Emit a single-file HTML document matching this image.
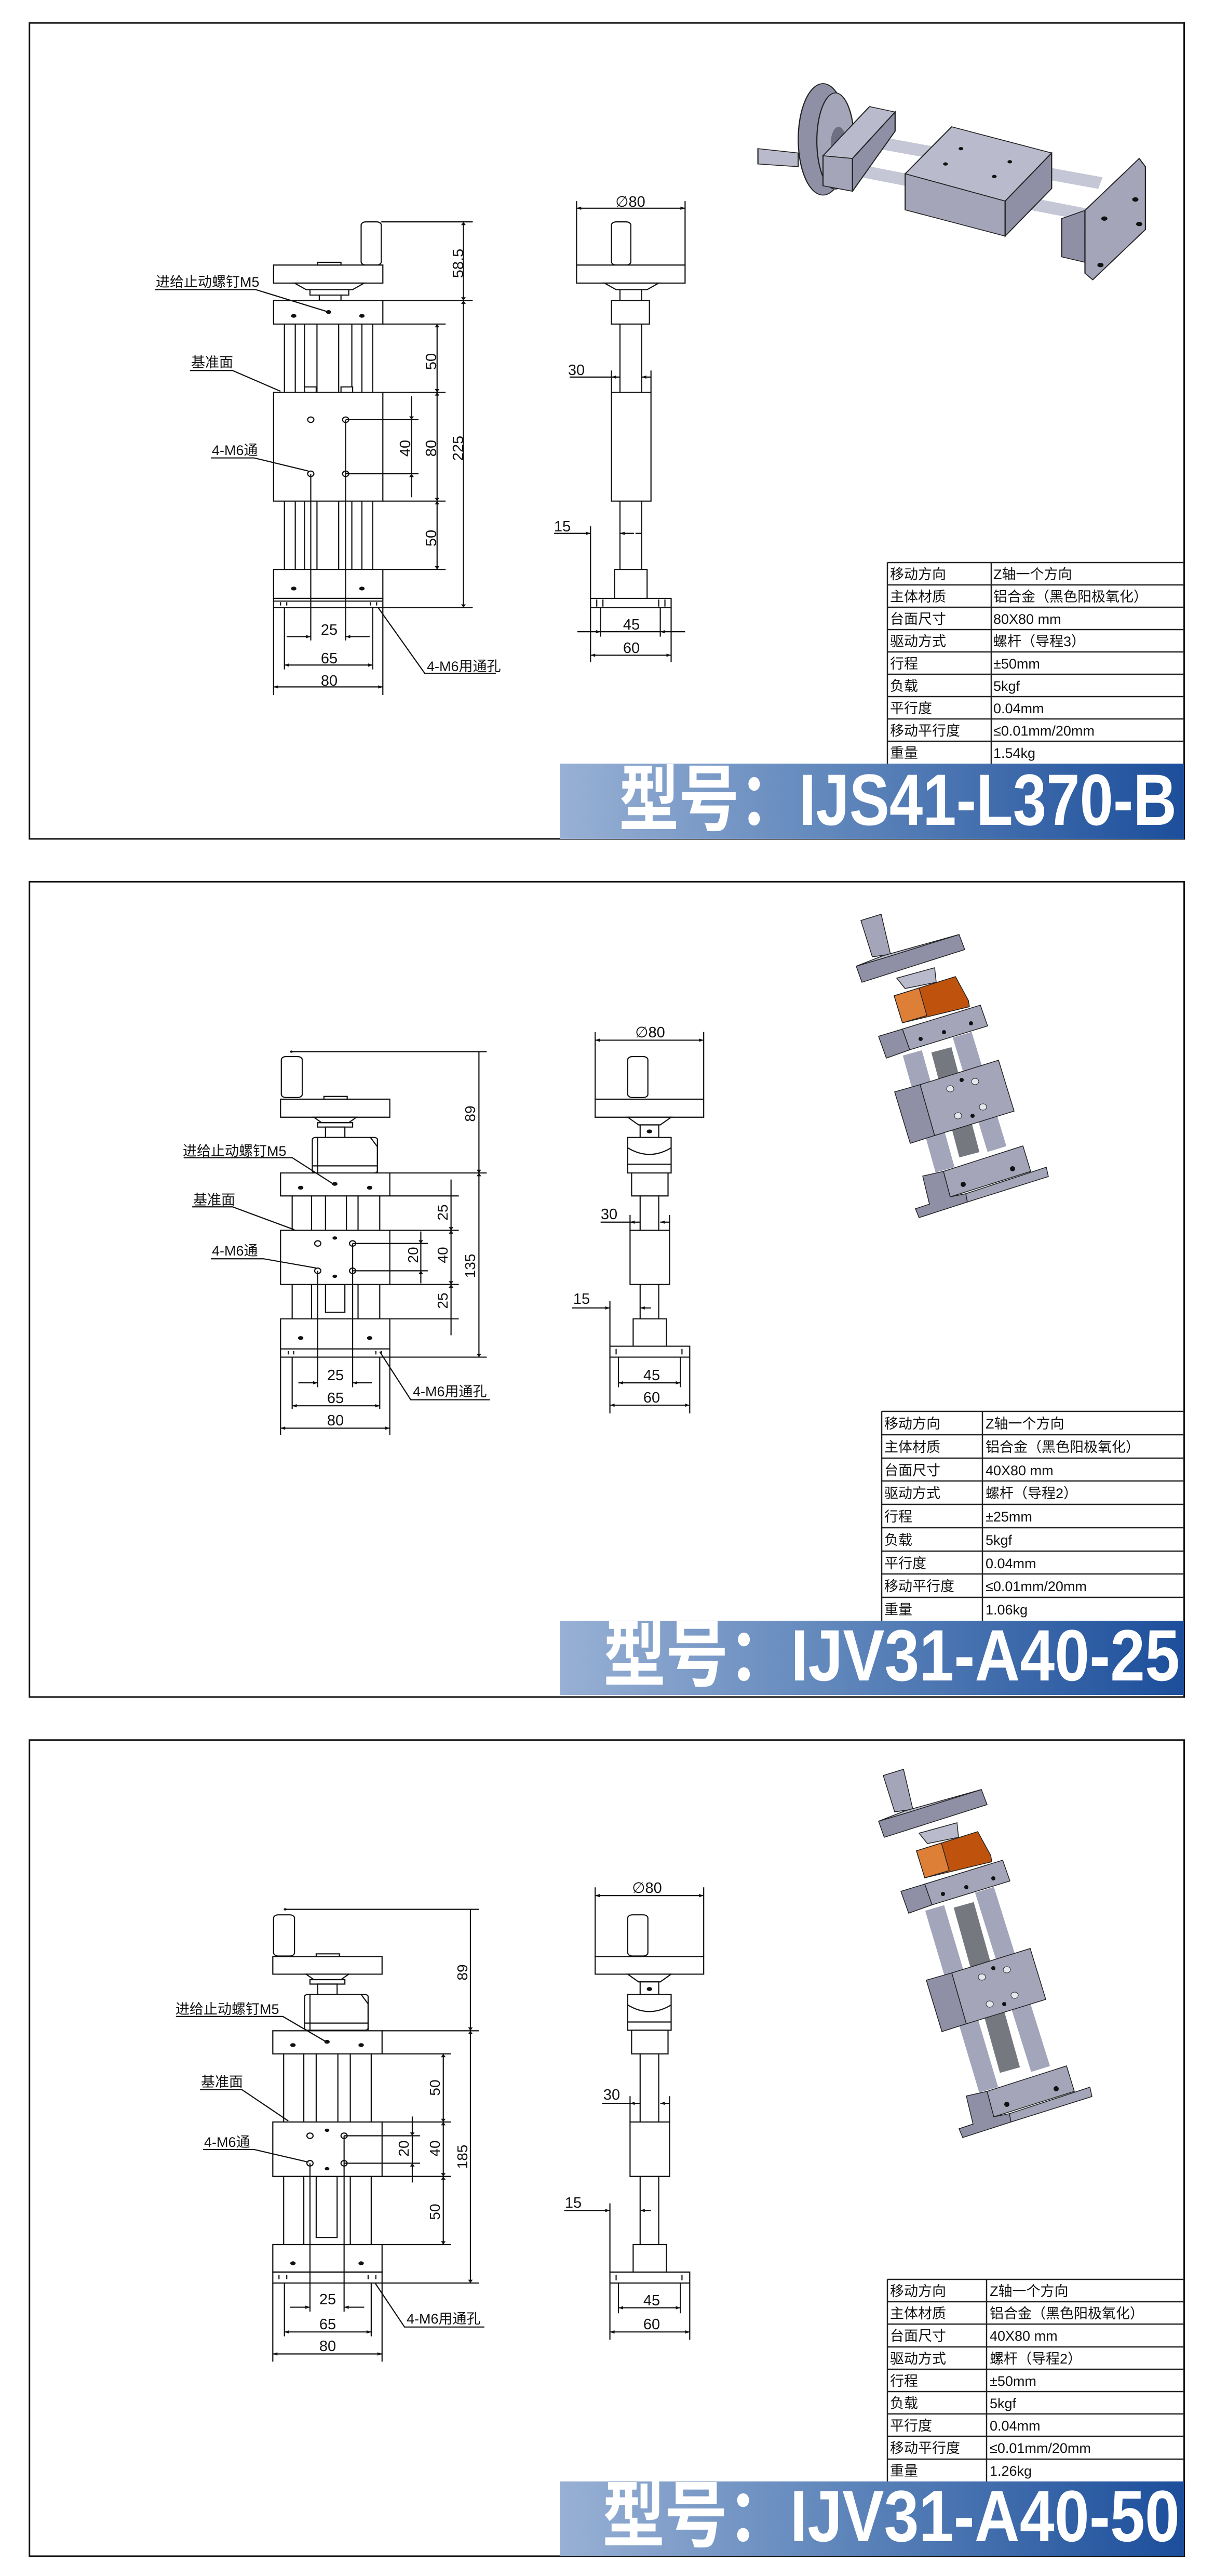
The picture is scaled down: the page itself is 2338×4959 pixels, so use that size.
<!DOCTYPE html>
<html><head><meta charset="utf-8">
<style>
html,body{margin:0;padding:0;background:#fff;}
body{width:2338px;height:4959px;position:relative;overflow:hidden;}
svg{position:absolute;left:0;}
.l{fill:none;stroke:#111;stroke-width:2.2;vector-effect:non-scaling-stroke}
.w{fill:#fff;stroke:#111;stroke-width:2.2;vector-effect:non-scaling-stroke}
.k{fill:#111;stroke:none}
.t{font-family:"Liberation Sans Narrow","Liberation Sans",sans-serif;font-size:29px;fill:#111}
.c{font-family:"Liberation Sans Narrow","Liberation Sans","Noto Sans CJK SC",sans-serif;font-size:27px;fill:#111}
.tb{font-family:"Liberation Sans Narrow","Liberation Sans","Noto Sans CJK SC",sans-serif;font-size:27px;fill:#111}
.bn{font-family:"Liberation Sans","Noto Sans CJK SC",sans-serif;font-weight:bold;font-size:140px;fill:#fff}
.g1{fill:#8f90a5;stroke:#222;stroke-width:1.5}
.g2{fill:#a4a5b9;stroke:#222;stroke-width:1.5}
.g3{fill:#b9bacb;stroke:#222;stroke-width:1.5}
</style></head><body>

<svg width="0" height="0" style="position:absolute">
<defs>
<marker id="a" viewBox="0 0 10 10" refX="10" refY="5" markerWidth="13" markerHeight="6" markerUnits="userSpaceOnUse" orient="auto-start-reverse"><path d="M0,0L10,5L0,10z" fill="#111"/></marker>
<linearGradient id="bg" x1="0" x2="1" y1="0" y2="0"><stop offset="0" stop-color="#98b0d4"/><stop offset="0.45" stop-color="#5f86bb"/><stop offset="1" stop-color="#1c4e9b"/></linearGradient>
</defs>
</svg>

<!-- ================= PANEL 1 ================= -->
<svg width="2338" height="1650" style="top:0" viewBox="0 0 2338 1650">
<g transform="scale(1.4925,1.052)">
<rect x="38" y="42" width="1490" height="1493" class="l" style="stroke-width:3"/>
<!-- 3D -->
<g>
<line x1="1110" y1="255" x2="1420" y2="335" stroke="#c5c7d6" stroke-width="22"/>
<line x1="1100" y1="310" x2="1410" y2="395" stroke="#c5c7d6" stroke-width="22"/>
<ellipse cx="1062" cy="255" rx="32" ry="102" class="g1"/>
<ellipse cx="1078" cy="258" rx="24" ry="88" class="g2"/>
<ellipse cx="1082" cy="262" rx="10" ry="30" fill="#6e6f82"/>
<polygon points="978,272 1030,280 1030,305 978,300" class="g3"/>
<polygon points="1062,285 1100,290 1100,350 1062,340" class="g2"/>
<polygon points="1062,285 1122,195 1155,205 1100,290" class="g3"/>
<polygon points="1100,290 1155,205 1155,240 1100,350" class="g1"/>
<polygon points="1168,318 1228,232 1357,280 1297,368" class="g3"/>
<polygon points="1168,318 1297,368 1297,432 1168,384" class="g2"/>
<polygon points="1297,368 1357,280 1357,345 1297,432" class="g1"/>
<circle cx="1240" cy="272" r="3" class="k"/><circle cx="1220" cy="300" r="3" class="k"/><circle cx="1303" cy="296" r="3" class="k"/><circle cx="1283" cy="323" r="3" class="k"/>
<polygon points="1370,400 1400,385 1400,480 1370,470" class="g1"/>
<polygon points="1400,385 1470,290 1478,305 1478,420 1410,512 1400,500" class="g2"/>
<circle cx="1425" cy="400" r="4" class="k"/><circle cx="1465" cy="365" r="4" class="k"/><circle cx="1420" cy="485" r="4" class="k"/><circle cx="1470" cy="410" r="4" class="k"/>
</g>
<!-- front view -->
<rect x="466" y="406" width="26" height="79" rx="6" class="w"/>
<rect x="353" y="485" width="141" height="33" class="w"/>
<rect x="410" y="480" width="30" height="5" class="w"/>
<polygon points="380,518 470,518 455,530 395,530" class="w"/>
<rect x="400" y="530" width="50" height="10" class="w"/>
<rect x="412" y="540" width="28" height="10" class="w"/>
<rect x="353" y="550" width="141" height="43" class="w"/>
<circle cx="379" cy="578" r="3.5" class="k"/><circle cx="424" cy="571" r="3.5" class="k"/><circle cx="467" cy="578" r="3.5" class="k"/>
<path class="l" d="M367,593V718M381,593V718M393,593V718M409,593V718M437,593V718M454,593V718M467,593V718M481,593V718"/>
<rect x="393" y="708" width="15" height="10" class="w"/><rect x="440" y="708" width="15" height="10" class="w"/>
<rect x="353" y="718" width="141" height="199" class="w"/>
<ellipse cx="401" cy="768" rx="4" ry="5" class="l"/><ellipse cx="446" cy="768" rx="4" ry="5" class="l"/><ellipse cx="401" cy="867" rx="4" ry="5" class="l"/><ellipse cx="446" cy="867" rx="4" ry="5" class="l"/>
<path class="l" d="M367,917V1042M381,917V1042M393,917V1042M409,917V1042M437,917V1042M454,917V1042M467,917V1042M481,917V1042"/>
<rect x="353" y="1042" width="141" height="53" class="w"/>
<circle cx="379" cy="1077" r="3.5" class="k"/><circle cx="467" cy="1077" r="3.5" class="k"/>
<rect x="353" y="1095" width="141" height="17" class="w"/>
<path class="l" d="M353,1100H494M362,1102V1108M370,1102V1108M478,1102V1108M486,1102V1108"/>
<!-- ext lines -->
<path class="l" d="M492,406H610M494,550H610M494,1112H610M494,593H575M494,718H575M494,917H575M494,1042H575M446,768H540M446,867H540M401,867V1172M446,768V1172M367,1112V1225M481,1112V1225M353,1112V1272M494,1112V1272"/>
<line x1="598" y1="406" x2="598" y2="550" class="l" marker-start="url(#a)" marker-end="url(#a)"/>
<line x1="598" y1="550" x2="598" y2="1112" class="l" marker-start="url(#a)" marker-end="url(#a)"/>
<line x1="564" y1="593" x2="564" y2="718" class="l" marker-start="url(#a)" marker-end="url(#a)"/>
<line x1="564" y1="718" x2="564" y2="917" class="l" marker-start="url(#a)" marker-end="url(#a)"/>
<line x1="564" y1="917" x2="564" y2="1042" class="l" marker-start="url(#a)" marker-end="url(#a)"/>
<line x1="531" y1="725" x2="531" y2="768" class="l" marker-end="url(#a)"/>
<line x1="531" y1="910" x2="531" y2="867" class="l" marker-end="url(#a)"/>
<line x1="531" y1="768" x2="531" y2="867" class="l"/>
<line x1="370" y1="1165" x2="401" y2="1165" class="l" marker-end="url(#a)"/>
<line x1="477" y1="1165" x2="446" y2="1165" class="l" marker-end="url(#a)"/>
<line x1="367" y1="1217" x2="481" y2="1217" class="l" marker-start="url(#a)" marker-end="url(#a)"/>
<line x1="353" y1="1257" x2="494" y2="1257" class="l" marker-start="url(#a)" marker-end="url(#a)"/>
<!-- leaders -->
<path class="l" d="M200,530H330L424,571M245,678H300L362,716M272,838H328L398,862M640,1232H548L488,1112"/>
<!-- side view -->
<path class="l" d="M744,368V485M884,368V485"/>
<line x1="744" y1="381" x2="884" y2="381" class="l" marker-start="url(#a)" marker-end="url(#a)"/>
<rect x="789" y="406" width="25" height="79" rx="6" class="w"/>
<rect x="744" y="485" width="140" height="33" class="w"/>
<polygon points="780,518 850,518 835,530 795,530" class="w"/>
<rect x="800" y="530" width="28" height="20" class="w"/>
<rect x="789" y="550" width="49" height="43" class="w"/>
<path class="l" d="M800,593V718M828,593V718M800,917V1042M828,917V1042"/>
<rect x="789" y="718" width="51" height="199" class="w"/>
<polyline points="793,1095 793,1042 835,1042 835,1095" class="l"/>
<rect x="762" y="1095" width="104" height="17" class="w"/>
<path class="l" d="M770,1097V1110M778,1097V1110M850,1097V1110M858,1097V1110"/>
<path class="l" d="M789,678V718M840,678V718M735,690H789M762,963V1095M820,976H828"/>
<line x1="800" y1="690" x2="789" y2="690" class="l" marker-end="url(#a)"/>
<line x1="828" y1="690" x2="840" y2="690" class="l" marker-start="url(#a)"/>
<line x1="715" y1="976" x2="762" y2="976" class="l" marker-end="url(#a)"/>
<line x1="818" y1="976" x2="800" y2="976" class="l" marker-end="url(#a)"/>
<path class="l" d="M775,1112V1165M852,1112V1165M762,1112V1212M866,1112V1212"/>
<line x1="745" y1="1156" x2="775" y2="1156" class="l" marker-end="url(#a)"/>
<line x1="884" y1="1156" x2="852" y2="1156" class="l" marker-end="url(#a)"/>
<line x1="775" y1="1156" x2="852" y2="1156" class="l"/>
<line x1="762" y1="1199" x2="866" y2="1199" class="l" marker-start="url(#a)" marker-end="url(#a)"/>
</g>
<!-- texts (real coords) -->
<text x="300" y="552" class="c">进给止动螺钉M5</text>
<text x="368" y="707" class="c">基准面</text>
<text x="408" y="876" class="c">4-M6通</text>
<text x="822" y="1292" class="c">4-M6用通孔</text>
<text class="t" text-anchor="middle" transform="translate(892,507) rotate(-90)">58.5</text>
<text class="t" text-anchor="middle" transform="translate(892,863) rotate(-90)">225</text>
<text class="t" text-anchor="middle" transform="translate(840,696) rotate(-90)">50</text>
<text class="t" text-anchor="middle" transform="translate(840,863) rotate(-90)">80</text>
<text class="t" text-anchor="middle" transform="translate(790,863) rotate(-90)">40</text>
<text class="t" text-anchor="middle" transform="translate(840,1036) rotate(-90)">50</text>
<text x="634" y="1222" class="t" text-anchor="middle">25</text>
<text x="634" y="1277" class="t" text-anchor="middle">65</text>
<text x="634" y="1320" class="t" text-anchor="middle">80</text>
<text x="1214" y="398" class="t" text-anchor="middle">∅80</text>
<text x="1110" y="722" class="t" text-anchor="middle">30</text>
<text x="1083" y="1023" class="t" text-anchor="middle">15</text>
<text x="1216" y="1212" class="t" text-anchor="middle">45</text>
<text x="1216" y="1257" class="t" text-anchor="middle">60</text>
<!-- table -->
<g stroke="#222" stroke-width="2.5">
<line x1="1709" y1="1083" x2="1709" y2="1470"/><line x1="1909" y1="1083" x2="1909" y2="1470"/><line x1="2280" y1="1083" x2="2280" y2="1470"/>
<line x1="1709" y1="1083" x2="2280" y2="1083"/><line x1="1709" y1="1126" x2="2280" y2="1126"/><line x1="1709" y1="1169" x2="2280" y2="1169"/><line x1="1709" y1="1212" x2="2280" y2="1212"/><line x1="1709" y1="1255" x2="2280" y2="1255"/><line x1="1709" y1="1298" x2="2280" y2="1298"/><line x1="1709" y1="1341" x2="2280" y2="1341"/><line x1="1709" y1="1384" x2="2280" y2="1384"/><line x1="1709" y1="1427" x2="2280" y2="1427"/>
</g>
<g class="tb">
<text x="1714" y="1115">移动方向</text><text x="1913" y="1115">Z轴一个方向</text>
<text x="1714" y="1158">主体材质</text><text x="1913" y="1158">铝合金（黑色阳极氧化）</text>
<text x="1714" y="1201">台面尺寸</text><text x="1913" y="1201">80X80 mm</text>
<text x="1714" y="1244">驱动方式</text><text x="1913" y="1244">螺杆（导程3）</text>
<text x="1714" y="1287">行程</text><text x="1913" y="1287">±50mm</text>
<text x="1714" y="1330">负载</text><text x="1913" y="1330">5kgf</text>
<text x="1714" y="1373">平行度</text><text x="1913" y="1373">0.04mm</text>
<text x="1714" y="1416">移动平行度</text><text x="1913" y="1416">≤0.01mm/20mm</text>
<text x="1714" y="1459">重量</text><text x="1913" y="1459">1.54kg</text>
</g>
<rect x="1078" y="1470" width="1202" height="145" fill="url(#bg)"/>
<text x="1192" y="1588" class="bn" textLength="1074" lengthAdjust="spacingAndGlyphs">型号：IJS41-L370-B</text>
</svg>

<!-- ================= PANEL 2 ================= -->
<svg width="2338" height="1650" style="top:1650px" viewBox="0 0 2338 1650">
<g id="p2_3d">
<line x1="1757" y1="377" x2="1820" y2="602" stroke="#a3a5bb" stroke-width="38"/>
<line x1="1853" y1="342" x2="1920" y2="562" stroke="#a3a5bb" stroke-width="38"/>
<line x1="1813" y1="371" x2="1867" y2="573" stroke="#75787e" stroke-width="40"/>
<polygon points="1777,614 1817,605 1830,654 1860,648 1863,664 1770,694 1763,677 1790,668" class="g1"/>
<polygon points="1860,648 2015,597 2019,615 1863,664" class="g2"/>
<polygon points="1817,605 1970,556 1985,605 1830,654" class="g2"/>
<circle cx="1855" cy="630" r="5" class="k"/><circle cx="1950" cy="600" r="5" class="k"/>
<polygon points="1723,452 1772,438 1800,536 1753,551" class="g1"/>
<polygon points="1772,438 1923,391 1953,489 1800,536" class="g2"/>
<ellipse cx="1830" cy="446" rx="7" ry="6" fill="#e6e6ee" stroke="#222"/><ellipse cx="1878" cy="432" rx="7" ry="6" fill="#e6e6ee" stroke="#222"/><ellipse cx="1845" cy="498" rx="7" ry="6" fill="#e6e6ee" stroke="#222"/><ellipse cx="1893" cy="481" rx="7" ry="6" fill="#e6e6ee" stroke="#222"/>
<circle cx="1852" cy="429" r="4" class="k"/><circle cx="1873" cy="498" r="4" class="k"/>
<polygon points="1692,345 1738,331 1752,371 1707,387" class="g1"/>
<polygon points="1738,331 1888,285 1902,325 1752,371" class="g2"/>
<circle cx="1773" cy="350" r="4" class="k"/><circle cx="1818" cy="337" r="4" class="k"/><circle cx="1870" cy="320" r="4" class="k"/>
<polygon points="1722,267 1840,230 1865,276 1867,288 1738,319" fill="#bf530e" stroke="#222" stroke-width="1.5"/>
<polygon points="1722,267 1770,252 1785,305 1738,319" fill="#de7f38" stroke="#222" stroke-width="1.5"/>
<polygon points="1727,233 1800,213 1803,241 1743,253" class="g3"/>
<polygon points="1658,122 1697,110 1715,187 1680,192" class="g2"/>
<polygon points="1649,210 1847,149 1858,178 1660,241" class="g1"/>
<polygon points="1649,210 1700,195 1847,149 1700,190" class="g3"/>
</g>
<g transform="scale(1.4925,1.052)">
<rect x="38" y="45" width="1490" height="1492" class="l" style="stroke-width:3"/>
<line x1="375" y1="356" x2="628" y2="356" class="l"/><circle cx="376" cy="356" r="2" class="k"/>
<rect x="363" y="365" width="27" height="75" rx="6" class="w"/>
<rect x="362" y="443" width="141" height="33" class="w"/>
<rect x="418" y="438" width="30" height="5" class="w"/>
<polygon points="405,476 460,476 450,486 415,486" class="w"/>
<rect x="410" y="486" width="45" height="8" class="w"/>
<rect x="420" y="494" width="25" height="19" class="w"/>
<rect x="403" y="513" width="84" height="65" rx="4" class="w"/>
<path class="l" d="M478,513L487,530V578M410,513V578M403,565H487"/>
<rect x="362" y="578" width="141" height="42" class="w"/>
<circle cx="388" cy="605" r="3.5" class="k"/><circle cx="432" cy="598" r="3.5" class="k"/><circle cx="477" cy="605" r="3.5" class="k"/>
<path class="l" d="M377,620V683M402,620V683M420,620V683M447,620V683M462,620V683M490,620V683M377,782V845M402,782V845M462,782V845M490,782V845"/>
<rect x="420" y="782" width="25" height="51" class="w"/>
<rect x="362" y="683" width="141" height="99" class="w"/>
<ellipse cx="410" cy="707" rx="4" ry="5" class="l"/><ellipse cx="455" cy="707" rx="4" ry="5" class="l"/><ellipse cx="410" cy="757" rx="4" ry="5" class="l"/><ellipse cx="455" cy="757" rx="4" ry="5" class="l"/>
<circle cx="432" cy="697" r="3" class="k"/><circle cx="432" cy="767" r="3" class="k"/>
<rect x="362" y="845" width="141" height="55" class="w"/>
<circle cx="388" cy="880" r="3.5" class="k"/><circle cx="477" cy="880" r="3.5" class="k"/>
<rect x="362" y="900" width="141" height="15" class="w"/>
<path class="l" d="M372,904V910M379,904V910M485,904V910M492,904V910"/>
<path class="l" d="M503,578H628M503,915H628M503,620H592M503,683H592M503,782H592M503,845H592M455,707H552M455,757H552M410,757V970M455,707V970M377,915V1010M490,915V1010M362,915V1058M503,915V1058"/>
<line x1="618" y1="356" x2="618" y2="578" class="l" marker-end="url(#a)"/>
<line x1="618" y1="578" x2="618" y2="915" class="l" marker-start="url(#a)" marker-end="url(#a)"/>
<line x1="582" y1="590" x2="582" y2="683" class="l" marker-end="url(#a)"/>
<line x1="582" y1="683" x2="582" y2="782" class="l" marker-start="url(#a)" marker-end="url(#a)"/>
<line x1="582" y1="875" x2="582" y2="782" class="l" marker-end="url(#a)"/>
<line x1="543" y1="685" x2="543" y2="707" class="l" marker-end="url(#a)"/>
<line x1="543" y1="780" x2="543" y2="757" class="l" marker-end="url(#a)"/>
<line x1="543" y1="707" x2="543" y2="757" class="l"/>
<line x1="385" y1="962" x2="410" y2="962" class="l" marker-end="url(#a)"/>
<line x1="480" y1="962" x2="455" y2="962" class="l" marker-end="url(#a)"/>
<line x1="377" y1="1004" x2="490" y2="1004" class="l" marker-start="url(#a)" marker-end="url(#a)"/>
<line x1="362" y1="1045" x2="503" y2="1045" class="l" marker-start="url(#a)" marker-end="url(#a)"/>
<path class="l" d="M237,550H377L432,600M248,640H300L380,682M272,735H340L408,752M632,993H530L490,905"/>
<!-- side -->
<path class="l" d="M768,320V443M908,320V443"/>
<line x1="768" y1="335" x2="908" y2="335" class="l" marker-start="url(#a)" marker-end="url(#a)"/>
<rect x="810" y="365" width="26" height="75" rx="6" class="w"/>
<rect x="768" y="443" width="140" height="33" class="w"/>
<polygon points="810,476 866,476 852,490 824,490" class="w"/>
<rect x="826" y="490" width="24" height="23" class="w"/>
<circle cx="838" cy="502" r="3.5" class="k"/>
<rect x="810" y="513" width="56" height="65" class="w"/>
<path class="l" d="M810,532Q838,556 866,532M810,562H866"/>
<rect x="815" y="578" width="47" height="42" class="w"/>
<path class="l" d="M826,620V683M850,620V683M826,782V845M850,782V845"/>
<rect x="813" y="683" width="51" height="99" class="w"/>
<polyline points="817,895 817,845 860,845 860,895" class="l"/>
<rect x="787" y="895" width="103" height="20" class="w"/>
<path class="l" d="M795,900V910M880,900V910"/>
<path class="l" d="M813,655V683M864,655V683M775,668H813M787,812V895"/>
<line x1="826" y1="668" x2="813" y2="668" class="l" marker-end="url(#a)"/>
<line x1="852" y1="668" x2="864" y2="668" class="l" marker-start="url(#a)"/>
<line x1="738" y1="825" x2="787" y2="825" class="l" marker-end="url(#a)"/>
<line x1="840" y1="825" x2="826" y2="825" class="l" marker-end="url(#a)"/>
<path class="l" d="M798,915V970M878,915V970M787,915V1018M890,915V1018M798,962H878"/>
<line x1="798" y1="962" x2="878" y2="962" class="l" marker-start="url(#a)" marker-end="url(#a)"/>
<line x1="787" y1="1003" x2="890" y2="1003" class="l" marker-start="url(#a)" marker-end="url(#a)"/>
</g>
<text x="352" y="575" class="c" style="font-family:'Liberation Sans','Noto Sans CJK SC',sans-serif">进给止动螺钉M5</text>
<text x="372" y="669" class="c">基准面</text>
<text x="408" y="767" class="c" style="font-family:'Liberation Sans','Noto Sans CJK SC',sans-serif">4-M6通</text>
<text x="795" y="1038" class="c" style="font-family:'Liberation Sans','Noto Sans CJK SC',sans-serif">4-M6用通孔</text>
<g style="font-family:'Liberation Sans',sans-serif;font-size:28px;fill:#111" text-anchor="middle">
<text transform="translate(915,494) rotate(-90)">89</text>
<text transform="translate(915,787) rotate(-90)">135</text>
<text transform="translate(862,684) rotate(-90)">25</text>
<text transform="translate(862,766) rotate(-90)">40</text>
<text transform="translate(805,766) rotate(-90)">20</text>
<text transform="translate(862,854) rotate(-90)">25</text>
</g>
<g class="t" text-anchor="middle">
<text x="646" y="1007">25</text><text x="646" y="1051">65</text><text x="646" y="1094">80</text>
<text x="1252" y="347">∅80</text>
<text x="1173" y="697">30</text><text x="1120" y="860">15</text>
<text x="1255" y="1007">45</text><text x="1255" y="1050">60</text>
</g>
<g stroke="#222" stroke-width="2.5">
<line x1="1698" y1="1067" x2="1698" y2="1470"/><line x1="1892" y1="1067" x2="1892" y2="1470"/><line x1="2280" y1="1067" x2="2280" y2="1470"/>
<line x1="1698" y1="1067" x2="2280" y2="1067"/><line x1="1698" y1="1112" x2="2280" y2="1112"/><line x1="1698" y1="1157" x2="2280" y2="1157"/><line x1="1698" y1="1201" x2="2280" y2="1201"/><line x1="1698" y1="1246" x2="2280" y2="1246"/><line x1="1698" y1="1291" x2="2280" y2="1291"/><line x1="1698" y1="1336" x2="2280" y2="1336"/><line x1="1698" y1="1380" x2="2280" y2="1380"/><line x1="1698" y1="1425" x2="2280" y2="1425"/>
</g>
<g class="tb">
<text x="1703" y="1100">移动方向</text><text x="1898" y="1100">Z轴一个方向</text>
<text x="1703" y="1145">主体材质</text><text x="1898" y="1145">铝合金（黑色阳极氧化）</text>
<text x="1703" y="1190">台面尺寸</text><text x="1898" y="1190">40X80 mm</text>
<text x="1703" y="1234">驱动方式</text><text x="1898" y="1234">螺杆（导程2）</text>
<text x="1703" y="1279">行程</text><text x="1898" y="1279">±25mm</text>
<text x="1703" y="1324">负载</text><text x="1898" y="1324">5kgf</text>
<text x="1703" y="1369">平行度</text><text x="1898" y="1369">0.04mm</text>
<text x="1703" y="1413">移动平行度</text><text x="1898" y="1413">≤0.01mm/20mm</text>
<text x="1703" y="1458">重量</text><text x="1898" y="1458">1.06kg</text>
</g>
<rect x="1078" y="1470" width="1202" height="143" fill="url(#bg)"/>
<text x="1162" y="1585" class="bn" textLength="1110" lengthAdjust="spacingAndGlyphs">型号：IJV31-A40-25</text>
</svg>

<!-- ================= PANEL 3 ================= -->
<svg width="2338" height="1659" style="top:3300px" viewBox="0 0 2338 1659">
<line x1="1800" y1="373" x2="1904" y2="723" stroke="#a3a5bb" stroke-width="38"/>
<line x1="1896" y1="338" x2="2004" y2="683" stroke="#a3a5bb" stroke-width="38"/>
<line x1="1856" y1="367" x2="1945" y2="685" stroke="#75787e" stroke-width="40"/>
<g transform="translate(84,121)">
<polygon points="1777,614 1817,605 1830,654 1860,648 1863,664 1770,694 1763,677 1790,668" class="g1"/>
<polygon points="1860,648 2015,597 2019,615 1863,664" class="g2"/>
<polygon points="1817,605 1970,556 1985,605 1830,654" class="g2"/>
<circle cx="1855" cy="630" r="5" class="k"/><circle cx="1950" cy="600" r="5" class="k"/>
</g>
<g transform="translate(61,60)">
<polygon points="1723,452 1772,438 1800,536 1753,551" class="g1"/>
<polygon points="1772,438 1923,391 1953,489 1800,536" class="g2"/>
<ellipse cx="1830" cy="446" rx="7" ry="6" fill="#e6e6ee" stroke="#222"/><ellipse cx="1878" cy="432" rx="7" ry="6" fill="#e6e6ee" stroke="#222"/><ellipse cx="1845" cy="498" rx="7" ry="6" fill="#e6e6ee" stroke="#222"/><ellipse cx="1893" cy="481" rx="7" ry="6" fill="#e6e6ee" stroke="#222"/>
<circle cx="1852" cy="429" r="4" class="k"/><circle cx="1873" cy="498" r="4" class="k"/>
</g>
<g transform="translate(43,-4)">
<polygon points="1692,345 1738,331 1752,371 1707,387" class="g1"/>
<polygon points="1738,331 1888,285 1902,325 1752,371" class="g2"/>
<circle cx="1773" cy="350" r="4" class="k"/><circle cx="1818" cy="337" r="4" class="k"/><circle cx="1870" cy="320" r="4" class="k"/>
<polygon points="1722,267 1840,230 1865,276 1867,288 1738,319" fill="#bf530e" stroke="#222" stroke-width="1.5"/>
<polygon points="1722,267 1770,252 1785,305 1738,319" fill="#de7f38" stroke="#222" stroke-width="1.5"/>
<polygon points="1727,233 1800,213 1803,241 1743,253" class="g3"/>
<polygon points="1658,122 1697,110 1715,187 1680,192" class="g2"/>
<polygon points="1649,210 1847,149 1858,178 1660,241" class="g1"/>
<polygon points="1649,210 1700,195 1847,149 1700,190" class="g3"/>
</g>
<g transform="scale(1.4925,1.058)">
<rect x="38" y="47" width="1490" height="1485" class="l" style="stroke-width:3"/>
<line x1="368" y1="355" x2="618" y2="355" class="l"/><circle cx="368" cy="355" r="2" class="k"/>
<rect x="353" y="365" width="27" height="75" rx="6" class="w"/>
<rect x="352" y="441" width="141" height="32" class="w"/>
<rect x="408" y="436" width="30" height="5" class="w"/>
<polygon points="395,473 450,473 440,483 405,483" class="w"/>
<rect x="400" y="483" width="45" height="8" class="w"/>
<rect x="410" y="491" width="25" height="19" class="w"/>
<rect x="393" y="510" width="82" height="65" rx="4" class="w"/>
<path class="l" d="M466,510L475,527V575M400,510V575M393,562H475"/>
<rect x="352" y="576" width="141" height="42" class="w"/>
<circle cx="378" cy="602" r="3.5" class="k"/><circle cx="422" cy="596" r="3.5" class="k"/><circle cx="466" cy="602" r="3.5" class="k"/>
<path class="l" d="M366,618V742M392,618V742M408,618V742M436,618V742M452,618V742M479,618V742M366,841V965M392,841V965M452,841V965M479,841V965"/>
<rect x="408" y="841" width="27" height="111" class="w"/>
<rect x="352" y="742" width="141" height="99" class="w"/>
<ellipse cx="400" cy="767" rx="4" ry="5" class="l"/><ellipse cx="444" cy="767" rx="4" ry="5" class="l"/><ellipse cx="400" cy="817" rx="4" ry="5" class="l"/><ellipse cx="444" cy="817" rx="4" ry="5" class="l"/>
<circle cx="422" cy="757" r="3" class="k"/><circle cx="422" cy="827" r="3" class="k"/>
<rect x="352" y="965" width="141" height="50" class="w"/>
<circle cx="378" cy="999" r="3.5" class="k"/><circle cx="466" cy="999" r="3.5" class="k"/>
<rect x="352" y="1015" width="141" height="20" class="w"/>
<path class="l" d="M360,1020V1028M370,1020V1028M475,1020V1028M485,1020V1028"/>
<path class="l" d="M493,576H618M493,1035H618M493,618H582M493,742H582M493,841H582M493,965H582M444,767H542M444,817H542M400,817V1087M444,767V1087M367,1035V1132M479,1035V1132M352,1035V1178M493,1035V1178"/>
<line x1="607" y1="355" x2="607" y2="576" class="l" marker-end="url(#a)"/>
<line x1="607" y1="576" x2="607" y2="1035" class="l" marker-start="url(#a)" marker-end="url(#a)"/>
<line x1="572" y1="618" x2="572" y2="742" class="l" marker-start="url(#a)" marker-end="url(#a)"/>
<line x1="572" y1="742" x2="572" y2="841" class="l" marker-start="url(#a)" marker-end="url(#a)"/>
<line x1="572" y1="841" x2="572" y2="965" class="l" marker-start="url(#a)" marker-end="url(#a)"/>
<line x1="532" y1="732" x2="532" y2="767" class="l" marker-end="url(#a)"/>
<line x1="532" y1="852" x2="532" y2="817" class="l" marker-end="url(#a)"/>
<line x1="532" y1="767" x2="532" y2="817" class="l"/>
<line x1="374" y1="1079" x2="400" y2="1079" class="l" marker-end="url(#a)"/>
<line x1="470" y1="1079" x2="444" y2="1079" class="l" marker-end="url(#a)"/>
<line x1="367" y1="1124" x2="479" y2="1124" class="l" marker-start="url(#a)" marker-end="url(#a)"/>
<line x1="352" y1="1164" x2="493" y2="1164" class="l" marker-start="url(#a)" marker-end="url(#a)"/>
<path class="l" d="M227,550H365L422,597M258,683H312L372,740M262,792H328L398,815M625,1115H522L484,1035"/>
<!-- side -->
<path class="l" d="M768,315V441M908,315V441"/>
<line x1="768" y1="330" x2="908" y2="330" class="l" marker-start="url(#a)" marker-end="url(#a)"/>
<rect x="810" y="365" width="26" height="75" rx="6" class="w"/>
<rect x="768" y="441" width="140" height="32" class="w"/>
<polygon points="810,473 866,473 852,487 824,487" class="w"/>
<rect x="826" y="487" width="24" height="23" class="w"/>
<circle cx="838" cy="500" r="3.5" class="k"/>
<rect x="810" y="510" width="56" height="65" class="w"/>
<path class="l" d="M810,529Q838,553 866,529M810,560H866"/>
<rect x="815" y="575" width="47" height="43" class="w"/>
<path class="l" d="M826,618V742M850,618V742M826,841V965M850,841V965"/>
<rect x="813" y="742" width="51" height="99" class="w"/>
<polyline points="817,1015 817,965 860,965 860,1015" class="l"/>
<rect x="787" y="1015" width="103" height="20" class="w"/>
<path class="l" d="M795,1020V1030M880,1020V1030"/>
<path class="l" d="M813,695V742M864,695V742M777,708H813M787,890V1015"/>
<line x1="826" y1="708" x2="813" y2="708" class="l" marker-end="url(#a)"/>
<line x1="852" y1="708" x2="864" y2="708" class="l" marker-start="url(#a)"/>
<line x1="728" y1="903" x2="787" y2="903" class="l" marker-end="url(#a)"/>
<line x1="840" y1="903" x2="826" y2="903" class="l" marker-end="url(#a)"/>
<path class="l" d="M798,1035V1090M878,1035V1090M787,1035V1138M890,1035V1138"/>
<line x1="798" y1="1080" x2="878" y2="1080" class="l" marker-start="url(#a)" marker-end="url(#a)"/>
<line x1="787" y1="1124" x2="890" y2="1124" class="l" marker-start="url(#a)" marker-end="url(#a)"/>
</g>
<text x="338" y="577" class="c" style="font-family:'Liberation Sans','Noto Sans CJK SC',sans-serif">进给止动螺钉M5</text>
<text x="387" y="717" class="c">基准面</text>
<text x="393" y="833" class="c" style="font-family:'Liberation Sans','Noto Sans CJK SC',sans-serif">4-M6通</text>
<text x="783" y="1173" class="c" style="font-family:'Liberation Sans','Noto Sans CJK SC',sans-serif">4-M6用通孔</text>
<g style="font-family:'Liberation Sans',sans-serif;font-size:28px;fill:#111" text-anchor="middle">
<text transform="translate(900,497) rotate(-90)">89</text>
<text transform="translate(900,852) rotate(-90)">185</text>
<text transform="translate(847,719) rotate(-90)">50</text>
<text transform="translate(847,836) rotate(-90)">40</text>
<text transform="translate(787,836) rotate(-90)">20</text>
<text transform="translate(847,958) rotate(-90)">50</text>
</g>
<g class="t" text-anchor="middle">
<text x="631" y="1136">25</text><text x="631" y="1184">65</text><text x="631" y="1226">80</text>
<text x="1246" y="344">∅80</text>
<text x="1178" y="742">30</text><text x="1104" y="950">15</text>
<text x="1255" y="1138">45</text><text x="1255" y="1184">60</text>
</g>
<g stroke="#222" stroke-width="2.5">
<line x1="1709" y1="1088" x2="1709" y2="1477"/><line x1="1900" y1="1088" x2="1900" y2="1477"/><line x1="2280" y1="1088" x2="2280" y2="1477"/>
<line x1="1709" y1="1088" x2="2280" y2="1088"/><line x1="1709" y1="1131" x2="2280" y2="1131"/><line x1="1709" y1="1174" x2="2280" y2="1174"/><line x1="1709" y1="1218" x2="2280" y2="1218"/><line x1="1709" y1="1261" x2="2280" y2="1261"/><line x1="1709" y1="1304" x2="2280" y2="1304"/><line x1="1709" y1="1347" x2="2280" y2="1347"/><line x1="1709" y1="1390" x2="2280" y2="1390"/><line x1="1709" y1="1434" x2="2280" y2="1434"/>
</g>
<g class="tb">
<text x="1714" y="1120">移动方向</text><text x="1906" y="1120">Z轴一个方向</text>
<text x="1714" y="1163">主体材质</text><text x="1906" y="1163">铝合金（黑色阳极氧化）</text>
<text x="1714" y="1206">台面尺寸</text><text x="1906" y="1206">40X80 mm</text>
<text x="1714" y="1250">驱动方式</text><text x="1906" y="1250">螺杆（导程2）</text>
<text x="1714" y="1293">行程</text><text x="1906" y="1293">±50mm</text>
<text x="1714" y="1336">负载</text><text x="1906" y="1336">5kgf</text>
<text x="1714" y="1379">平行度</text><text x="1906" y="1379">0.04mm</text>
<text x="1714" y="1422">移动平行度</text><text x="1906" y="1422">≤0.01mm/20mm</text>
<text x="1714" y="1466">重量</text><text x="1906" y="1466">1.26kg</text>
</g>
<rect x="1078" y="1477" width="1202" height="144" fill="url(#bg)"/>
<text x="1160" y="1592" class="bn" textLength="1112" lengthAdjust="spacingAndGlyphs">型号：IJV31-A40-50</text>
</svg>
</body></html>
